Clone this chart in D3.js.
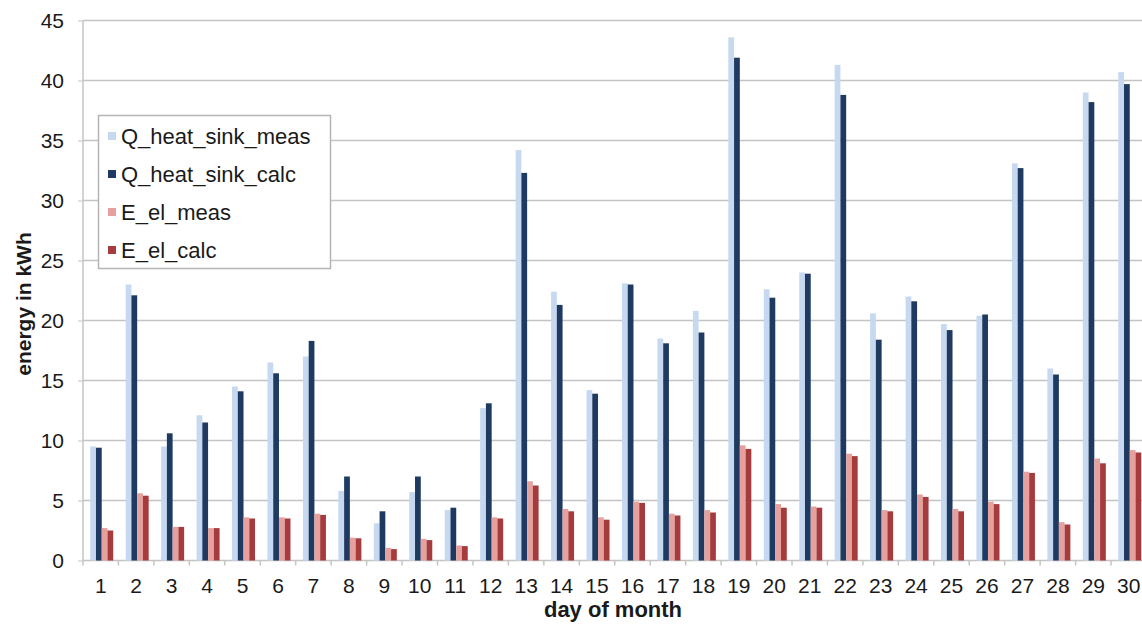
<!DOCTYPE html>
<html>
<head>
<meta charset="utf-8">
<script src="https://cdn.jsdelivr.net/npm/d3@7"></script>
<style>
  html, body { margin: 0; padding: 0; background: #fff; }
  svg { display: block; }
  text { font-family: "Liberation Sans", Arial, sans-serif; fill: #1a1a1a; }
</style>
</head>
<body>
<svg id="chart" width="1142" height="630"></svg>
<script>
const days = d3.range(1, 31).map(String);
const seriesNames = ["Q_heat_sink_meas", "Q_heat_sink_calc", "E_el_meas", "E_el_calc"];
const qHeatMeas = [9.5, 23.0, 9.5, 12.1, 14.5, 16.5, 17.0, 5.8, 3.1, 5.7, 4.2, 12.7, 34.2, 22.4, 14.2, 23.1, 18.5, 20.8, 43.6, 22.6, 24.0, 41.3, 20.6, 22.0, 19.7, 20.4, 33.1, 16.0, 39.0, 40.7];
const qHeatCalc = [9.4, 22.1, 10.6, 11.5, 14.1, 15.6, 18.3, 7.0, 4.1, 7.0, 4.4, 13.1, 32.3, 21.3, 13.9, 23.0, 18.1, 19.0, 41.9, 21.9, 23.9, 38.8, 18.4, 21.6, 19.2, 20.5, 32.7, 15.5, 38.2, 39.7];
const eElMeas = [2.7, 5.6, 2.8, 2.7, 3.6, 3.6, 3.9, 1.9, 1.05, 1.8, 1.25, 3.6, 6.6, 4.3, 3.6, 4.9, 3.9, 4.2, 9.6, 4.7, 4.5, 8.9, 4.2, 5.5, 4.3, 4.9, 7.4, 3.2, 8.5, 9.2];
const eElCalc = [2.5, 5.4, 2.8, 2.7, 3.5, 3.5, 3.8, 1.85, 0.95, 1.7, 1.2, 3.5, 6.25, 4.1, 3.4, 4.8, 3.75, 4.0, 9.3, 4.4, 4.4, 8.7, 4.1, 5.3, 4.1, 4.7, 7.3, 3.0, 8.1, 9.0];
const yTicks = [0, 5, 10, 15, 20, 25, 30, 35, 40, 45];
const colors = ["#c6d9f1", "#1f3a60", "#e6a19e", "#a53b3d"];

const allSeries = [qHeatMeas, qHeatCalc, eElMeas, eElCalc];

const svg = d3.select("#chart");
const plotLeft = 83, plotTop = 20.5, plotH = 540;
const bandW = 35.45;
const plotRight = plotLeft + bandW * days.length;

const x = d3.scaleBand().domain(days).range([plotLeft, plotRight]).paddingInner(0).paddingOuter(0);
const inner = d3.scaleBand().domain(d3.range(4)).range([0, 23]).padding(0);
const y = d3.scaleLinear().domain([0, 45]).range([plotTop + plotH, plotTop]);

// gridlines
svg.append("g").selectAll("line").data(yTicks).join("line")
  .attr("x1", plotLeft).attr("x2", plotRight)
  .attr("y1", d => y(d)).attr("y2", d => y(d))
  .attr("stroke", "#c4c4c4").attr("stroke-width", 1.5);

// y axis line
svg.append("line").attr("x1", plotLeft).attr("x2", plotLeft)
  .attr("y1", y(45)).attr("y2", y(0) + 5)
  .attr("stroke", "#c4c4c4").attr("stroke-width", 1.5);

// y axis
const yAxis = d3.axisLeft(y).tickValues(yTicks).tickSize(5).tickPadding(14);
const gy = svg.append("g").attr("transform", `translate(${plotLeft},0)`).call(yAxis);
gy.select(".domain").remove();
gy.selectAll(".tick line").attr("stroke", "#c4c4c4");
gy.selectAll("text").attr("font-size", 21).attr("fill", "#1a1a1a")
  .attr("font-family", "Liberation Sans, Arial, sans-serif");

// x axis
const xAxis = d3.axisBottom(x).tickSize(0).tickPadding(18);
const gx = svg.append("g").attr("transform", `translate(0,${y(0)})`).call(xAxis);
gx.select(".domain").remove();
gx.selectAll("text").attr("font-size", 21).attr("fill", "#1a1a1a")
  .attr("font-family", "Liberation Sans, Arial, sans-serif");
// x tick marks between categories
svg.append("g").selectAll("line").data(days).join("line")
  .attr("x1", d => x(d) + bandW).attr("x2", d => x(d) + bandW)
  .attr("y1", y(0)).attr("y2", y(0) + 5)
  .attr("stroke", "#c4c4c4").attr("stroke-width", 1.5);

// bars
const groupOffset = (bandW - 23) / 2 + 1;
allSeries.forEach((vals, si) => {
  svg.append("g").selectAll("rect").data(vals).join("rect")
    .attr("x", (d, i) => x(days[i]) + groupOffset + inner(si))
    .attr("y", d => y(d))
    .attr("width", inner.bandwidth())
    .attr("height", d => y(0) - y(d))
    .attr("fill", colors[si]);
});

// axis titles
svg.append("text").attr("x", 613).attr("y", 617)
  .attr("text-anchor", "middle").attr("font-size", 22).attr("font-weight", "bold")
  .text("day of month");
svg.append("text").attr("transform", "translate(31,304) rotate(-90)")
  .attr("text-anchor", "middle").attr("font-size", 21).attr("font-weight", "bold")
  .text("energy in kWh");

// legend
const lg = svg.append("g");
lg.append("rect").attr("x", 98.5).attr("y", 115.5).attr("width", 232).attr("height", 153)
  .attr("fill", "#fff").attr("stroke", "#b5b5b5").attr("stroke-width", 1.5);
const rowsY = [136, 174, 212, 250];
seriesNames.forEach((name, i) => {
  lg.append("rect").attr("x", 108).attr("y", rowsY[i] - 4).attr("width", 8).attr("height", 8)
    .attr("fill", colors[i]);
  lg.append("text").attr("x", 121).attr("y", rowsY[i] + 8).attr("font-size", 22)
    .text(name);
});
</script>
</body>
</html>
